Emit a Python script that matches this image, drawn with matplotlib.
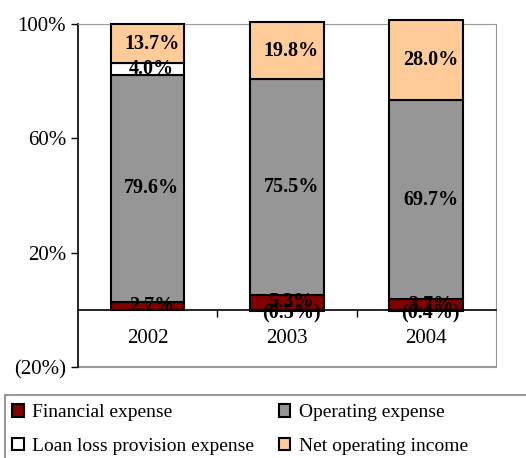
import matplotlib.pyplot as plt
from matplotlib.patches import Patch, Rectangle
import numpy as np

plt.rcParams['font.family'] = ['Liberation Serif', 'DejaVu Serif']

years = ["2002", "2003", "2004"]
financial = [2.7, 5.3, 3.7]
operating = [79.6, 75.5, 69.7]
loan_loss = [4.0, -0.5, -0.4]
net_income = [13.7, 19.8, 28.0]
y_ticks = [-20, 20, 60, 100]
y_tick_labels = ["(20%)", "20%", "60%", "100%"]

series = [
    ("Financial expense", financial, "#800000"),
    ("Operating expense", operating, "#969696"),
    ("Loan loss provision expense", loan_loss, "#ffffff"),
    ("Net operating income", net_income, "#ffcc99"),
]

def fmt(v):
    return "(%.1f%%)" % abs(v) if v < 0 else "%.1f%%" % v

fig = plt.figure(figsize=(5.26, 4.58), dpi=100)
ax = fig.add_axes([0.148, 0.1987, 0.795, 0.749])

x = np.arange(len(years))
pos_base = np.zeros(len(years))
neg_base = np.zeros(len(years))
for name, vals, color in series:
    vals = np.array(vals)
    bottoms = np.where(vals >= 0, pos_base, neg_base)
    ax.bar(x, vals, 0.53, bottom=bottoms, color=color, edgecolor="black",
           linewidth=1.5, clip_on=False, zorder=3)
    for xi, b, v in zip(x, bottoms, vals):
        yy = b + v / 2
        if v < 0:
            yy -= 1.0
        ax.text(xi + 0.03, yy, fmt(v), ha="center", va="center",
                fontsize=14.5, fontweight="bold", zorder=4)
    pos_base = pos_base + np.where(vals >= 0, vals, 0)
    neg_base = neg_base + np.where(vals < 0, vals, 0)

ax.set_xlim(-0.5, 2.5)
ax.set_ylim(-20, 100)
ax.set_yticks(y_ticks)
ax.set_yticklabels(y_tick_labels, fontsize=15)
ax.tick_params(axis="y", direction="out", length=5, width=1)

# category axis sits on the zero line
ax.spines["bottom"].set_position(("data", 0))
ax.spines["bottom"].set_linewidth(1.2)
ax.set_xticks([0.5, 1.5])
ax.set_xticklabels([])
ax.tick_params(axis="x", direction="out", length=5, width=1)
for xi, yr in zip(x, years):
    ax.text(xi, -10, yr, ha="center", va="center", fontsize=15)

ax.spines["left"].set_linewidth(1.2)
for s in ["top", "right"]:
    ax.spines[s].set_color("#999999")
ax.axhline(-20, color="#999999", linewidth=1.5, clip_on=False)

# legend box runs off the right and bottom edges
fig.patches.append(Rectangle((5 / 526, -0.05), 1.0, 0.05 + 63 / 458,
                             transform=fig.transFigure, facecolor="none",
                             edgecolor="#999999", linewidth=1.5))

handles = [Patch(facecolor=c, edgecolor="black", linewidth=1.5) for _, _, c in series]
labels = [n for n, _, _ in series]
order = [0, 2, 1, 3]
fig.legend([handles[i] for i in order], [labels[i] for i in order],
           loc="upper left", bbox_to_anchor=(0.008, 0.134), ncol=2,
           fontsize=14, frameon=False,
           handlelength=0.6, handleheight=0.6, handletextpad=0.45,
           columnspacing=1.25, borderpad=0.4, labelspacing=0.85,
           borderaxespad=0)

fig.savefig("out.png", dpi=100)
